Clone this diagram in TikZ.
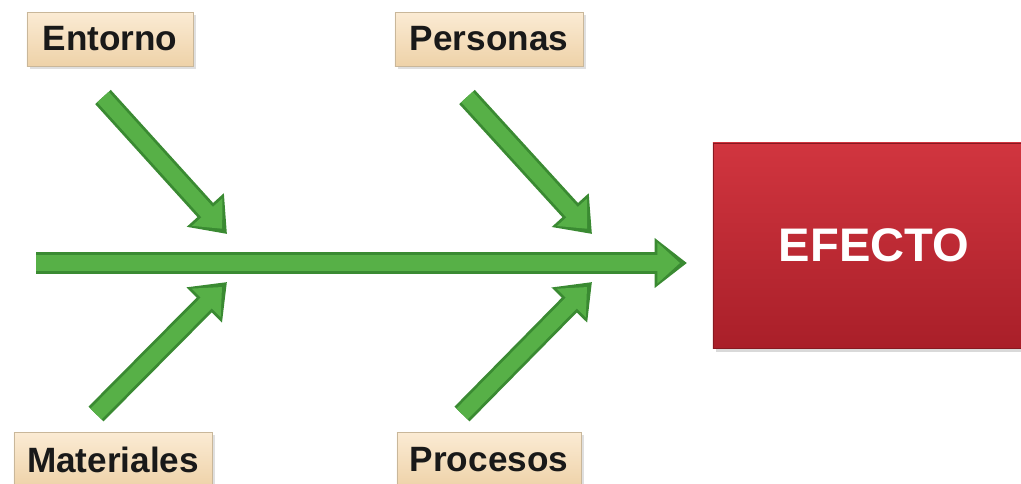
\documentclass[tikz,border=0pt]{standalone}
\usepackage{fontspec}
\setmainfont{Liberation Sans}
\usetikzlibrary{arrows.meta,shadows}
\definecolor{boxtop}{HTML}{FBEBD4}
\definecolor{boxbot}{HTML}{EED2A8}
\definecolor{boxline}{HTML}{C9B79A}
\definecolor{redtop}{HTML}{D1353F}
\definecolor{redbot}{HTML}{A91F29}
\definecolor{gdark}{HTML}{3A8A32}
\definecolor{glight}{HTML}{57B047}
\tikzset{
  cause/.style={draw=boxline, line width=0.6pt, top color=boxtop, bottom color=boxbot,
    minimum height=1.35cm, inner sep=0pt, font=\bfseries\fontsize{25}{28}\selectfont,
    text=black!90, drop shadow={opacity=0.25, shadow xshift=2pt, shadow yshift=-2pt}},
  effect/.style={top color=redtop, bottom color=redbot, draw=redbot!80!black, line width=0.4pt,
    minimum width=7.8cm, minimum height=5.125cm, inner sep=0pt,
    font=\bfseries\fontsize{33.5}{36}\selectfont, text=white,
    drop shadow={opacity=0.3, shadow xshift=2pt, shadow yshift=-3pt}},
  bigarrow/.style={draw=gdark, line width=15pt,
    -{Triangle[length=23pt, width=34pt]}},
  bigarrowin/.style={draw=glight, line width=11pt, shorten >=5pt,
    -{Triangle[length=16pt, width=28pt]}},
}
\begin{document}
\begin{tikzpicture}[x=0.025cm, y=-0.025cm]
\useasboundingbox (0,0) rectangle (1021,483);
\node[cause, minimum width=4.15cm] (ent) at (110,39) {Entorno};
\node[cause, minimum width=4.7cm] (per) at (489,39) {Personas};
\node[cause, minimum width=4.95cm, minimum height=1.4cm] (mat) at (113,460) {Materiales};
\node[cause, minimum width=4.6cm, minimum height=1.4cm] (pro) at (489,460) {Procesos};
\node[effect] (efe) at (869,245.5) {\hspace*{0.25cm}EFECTO};
% connector end points
\coordinate (ms) at (36,263);
\coordinate (me) at (687,263);
\coordinate (es) at (103,97);
\coordinate (ee) at (227,234);
\coordinate (ps) at (467,97);
\coordinate (pe) at (592,234);
\coordinate (as) at (96,414);
\coordinate (ae) at (227,282);
\coordinate (bs) at (462,414);
\coordinate (be) at (592,282);
\foreach \s/\e in {ms/me, es/ee, ps/pe, as/ae, bs/be}{
  \draw[bigarrow] (\s) -- (\e);
  \draw[bigarrowin] (\s) -- (\e);
}
\end{tikzpicture}
\end{document}
